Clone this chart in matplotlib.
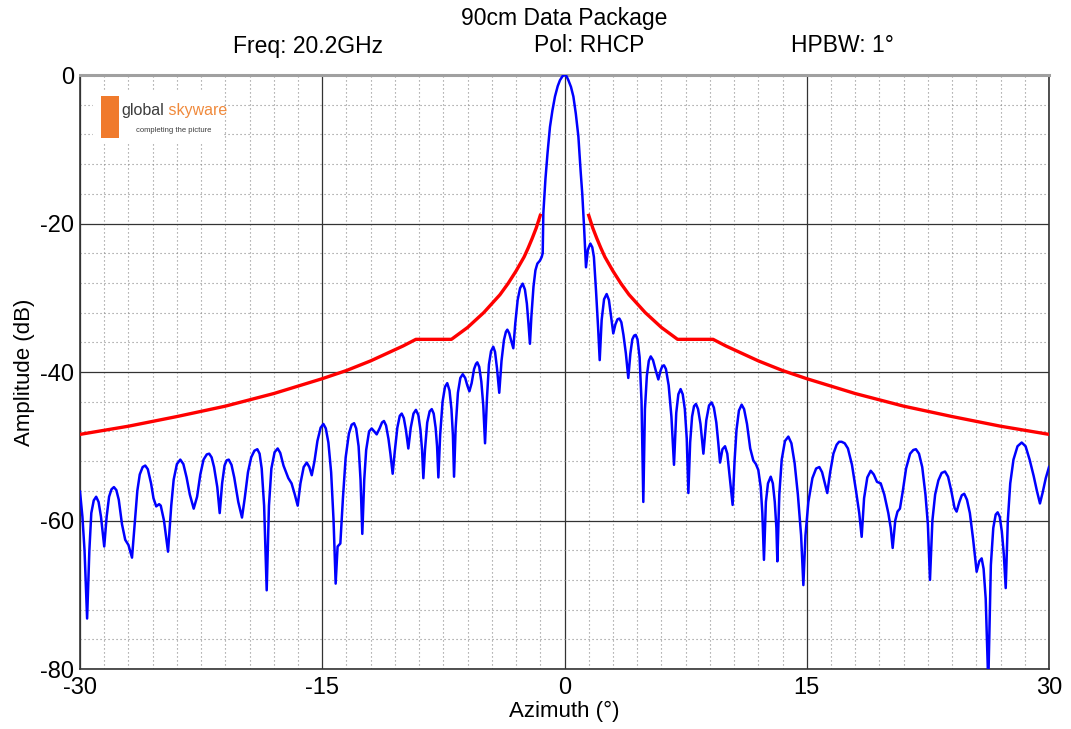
import matplotlib
matplotlib.use("Agg")
import matplotlib.pyplot as plt
from matplotlib.patches import Rectangle
from matplotlib.ticker import MultipleLocator

plt.rcParams['font.family'] = ['Liberation Sans', 'DejaVu Sans']

# Measured co-polar pattern: azimuth (deg) and amplitude (dB), row by row
azimuth_deg = [
    -30.0, -29.85, -29.72, -29.56, -29.42, -29.3, -29.15, -29.0, -28.85, -28.7,
    -28.5, -28.35, -28.2, -28.05, -27.9, -27.75, -27.6, -27.4, -27.2, -27.0,
    -26.78, -26.6, -26.45, -26.3, -26.12, -25.96, -25.8, -25.6, -25.45, -25.28,
    -25.1, -25.0, -24.8, -24.55, -24.35, -24.2, -24.0, -23.79, -23.6, -23.4,
    -23.2, -22.96, -22.75, -22.55, -22.35, -22.15, -22.0, -21.85, -21.7, -21.5,
    -21.35, -21.2, -21.05, -20.92, -20.79, -20.62, -20.45, -20.2, -19.97, -19.8,
    -19.6, -19.4, -19.2, -19.02, -18.88, -18.75, -18.6, -18.44, -18.3, -18.15,
    -17.95, -17.76, -17.6, -17.4, -17.1, -16.9, -16.7, -16.52, -16.35, -16.15,
    -15.96, -15.8, -15.65, -15.48, -15.3, -15.1, -14.93, -14.78, -14.62, -14.45,
    -14.3, -14.17, -14.05, -13.88, -13.72, -13.55, -13.35, -13.18, -13.03, -12.9,
    -12.75, -12.63, -12.52, -12.4, -12.28, -12.1, -11.94, -11.78, -11.63, -11.45,
    -11.3, -11.18, -11.05, -10.9, -10.78, -10.64, -10.5, -10.35, -10.2, -10.08,
    -9.95, -9.82, -9.67, -9.52, -9.35, -9.2, -9.05, -8.92, -8.82, -8.74,
    -8.64, -8.5, -8.35, -8.22, -8.1, -7.98, -7.89, -7.81, -7.7, -7.55,
    -7.4, -7.26, -7.12, -7.0, -6.91, -6.84, -6.74, -6.6, -6.45, -6.3,
    -6.15, -6.02, -5.89, -5.75, -5.6, -5.48, -5.4, -5.28, -5.15, -5.03,
    -4.92, -4.8, -4.68, -4.55, -4.41, -4.3, -4.18, -4.04, -3.9, -3.75,
    -3.63, -3.54, -3.42, -3.3, -3.17, -3.05, -2.9, -2.75, -2.59, -2.45,
    -2.33, -2.23, -2.14, -2.05, -1.92, -1.8, -1.68, -1.52, -1.41, -1.35,
    -1.31, -1.18, -1.05, -0.9, -0.75, -0.59, -0.42, -0.28, -0.12, 0.0,
    0.12, 0.24, 0.4, 0.55, 0.7, 0.86, 1.0, 1.1, 1.21, 1.33,
    1.45, 1.6, 1.72, 1.82, 1.95, 2.08, 2.18, 2.3, 2.45, 2.61,
    2.75, 2.88, 3.02, 3.15, 3.28, 3.4, 3.52, 3.65, 3.8, 3.95,
    4.08, 4.2, 4.31, 4.41, 4.52, 4.65, 4.77, 4.88, 4.98, 5.1,
    5.22, 5.34, 5.48, 5.65, 5.81, 5.95, 6.06, 6.16, 6.28, 6.45,
    6.62, 6.78, 6.92, 7.05, 7.19, 7.32, 7.45, 7.57, 7.67, 7.78,
    7.9, 8.02, 8.14, 8.27, 8.42, 8.6, 8.78, 8.95, 9.11, 9.25,
    9.4, 9.52, 9.63, 9.78, 9.94, 10.08, 10.25, 10.41, 10.53, 10.65,
    10.8, 10.97, 11.12, 11.3, 11.5, 11.69, 11.85, 12.0, 12.15, 12.25,
    12.35, 12.47, 12.6, 12.77, 12.9, 13.02, 13.12, 13.18, 13.3, 13.45,
    13.65, 13.86, 14.05, 14.25, 14.45, 14.65, 14.79, 14.92, 15.1, 15.35,
    15.58, 15.78, 15.95, 16.1, 16.27, 16.45, 16.65, 16.85, 17.0, 17.16,
    17.35, 17.55, 17.8, 18.05, 18.25, 18.4, 18.55, 18.75, 18.96, 19.15,
    19.35, 19.58, 19.8, 20.05, 20.2, 20.32, 20.48, 20.62, 20.77, 20.95,
    21.15, 21.4, 21.6, 21.76, 21.95, 22.15, 22.35, 22.5, 22.63, 22.78,
    22.95, 23.15, 23.35, 23.56, 23.75, 23.95, 24.15, 24.28, 24.45, 24.6,
    24.75, 24.92, 25.1, 25.3, 25.52, 25.68, 25.83, 25.95, 26.08, 26.24,
    26.4, 26.55, 26.7, 26.82, 26.95, 27.08, 27.2, 27.32, 27.45, 27.6,
    27.8, 28.05, 28.31, 28.55, 28.8, 29.05, 29.25, 29.44, 29.6, 29.8,
    30.0,
]
amplitude_db = [
    -56.1, -59.5, -64.0, -73.2, -64.0, -59.0, -57.3, -56.8, -57.5, -59.5,
    -63.5, -59.5, -56.8, -55.8, -55.5, -55.9, -57.2, -60.5, -62.6, -63.3,
    -65.0, -60.0, -56.0, -53.8, -52.8, -52.6, -53.1, -55.0, -57.0, -58.1,
    -57.8, -58.0, -60.0, -64.2, -58.0, -54.5, -52.4, -51.8, -52.4, -54.2,
    -56.5, -58.4, -56.8, -53.8, -51.8, -51.1, -51.0, -51.5, -52.8, -55.5,
    -59.0, -55.0, -52.6, -51.9, -51.8, -52.5, -54.2, -57.5, -59.6, -57.0,
    -53.5, -51.5, -50.6, -50.4, -51.0, -53.0, -58.0, -69.4, -58.0, -53.0,
    -50.8, -50.3, -50.9, -52.6, -54.3, -55.0, -56.5, -58.0, -55.0, -52.8,
    -52.2, -52.8, -53.9, -52.0, -49.3, -47.5, -47.0, -47.6, -49.5, -53.5,
    -60.0, -68.5, -63.5, -63.1, -57.0, -51.5, -48.3, -47.1, -46.9, -47.6,
    -50.0, -54.5, -61.8, -54.5, -50.5, -48.0, -47.6, -48.0, -48.4, -47.6,
    -46.8, -46.6, -47.2, -49.0, -51.0, -53.7, -50.5, -47.5, -45.9, -45.6,
    -46.2, -47.8, -50.3, -47.5, -45.6, -45.1, -45.8, -47.8, -50.5, -54.3,
    -50.5, -46.8, -45.3, -45.0, -45.6, -47.5, -50.0, -54.2, -48.5, -44.0,
    -42.0, -41.5, -42.5, -45.0, -48.5, -54.1, -47.5, -42.8, -40.8, -40.3,
    -40.8, -41.8, -42.6, -41.5, -39.6, -38.9, -38.7, -39.3, -41.3, -44.5,
    -49.6, -43.5, -39.0, -37.2, -36.6, -37.3, -39.5, -42.8, -38.5, -35.7,
    -34.6, -34.3, -34.8, -35.8, -36.8, -33.5, -30.3, -28.7, -28.1, -28.9,
    -30.8, -33.5, -36.2, -32.5, -28.5, -26.3, -25.4, -25.0, -24.5, -24.0,
    -18.6, -14.0, -10.5, -7.0, -4.8, -2.9, -1.5, -0.7, -0.15, 0.0,
    -0.15, -0.7, -1.6, -2.9, -5.2, -8.3, -13.0, -16.0, -20.4, -25.9,
    -23.5, -22.7, -23.2, -24.5, -29.0, -34.0, -38.4, -33.0, -30.2, -29.5,
    -30.3, -32.5, -34.8, -33.6, -32.9, -32.8, -33.3, -35.0, -37.5, -40.8,
    -37.5, -35.6, -35.1, -35.0, -35.6, -38.0, -44.0, -57.5, -45.0, -40.5,
    -38.5, -37.9, -38.4, -39.8, -41.0, -39.8, -39.2, -39.1, -39.6, -41.8,
    -46.0, -52.5, -45.5, -43.0, -42.3, -43.0, -45.0, -49.0, -56.3, -49.5,
    -46.0, -44.6, -44.3, -45.0, -47.0, -51.0, -46.5, -44.5, -44.1, -44.8,
    -46.8, -49.5, -52.2, -50.4, -50.0, -51.0, -54.5, -57.9, -52.0, -47.8,
    -45.2, -44.4, -45.0, -47.0, -50.3, -51.9, -52.4, -53.2, -55.5, -59.0,
    -65.3, -57.5, -55.0, -54.1, -55.0, -57.5, -61.0, -65.5, -56.5, -51.8,
    -49.3, -48.7, -49.6, -52.3, -56.5, -62.0, -68.7, -62.0, -57.5, -54.3,
    -53.0, -52.8, -53.5, -54.8, -56.3, -53.5, -51.0, -49.8, -49.4, -49.4,
    -49.6, -50.3, -52.5, -56.0, -59.0, -62.2, -57.0, -54.2, -53.3, -53.8,
    -54.8, -55.0, -56.5, -59.0, -61.0, -63.7, -60.0, -58.8, -58.4, -56.0,
    -53.0, -51.0, -50.5, -50.4, -51.0, -52.8, -56.5, -60.5, -68.0, -60.0,
    -56.5, -54.6, -53.6, -53.4, -54.1, -56.0, -58.3, -58.8, -57.5, -56.6,
    -56.4, -57.2, -59.0, -62.5, -66.9, -65.5, -65.1, -66.5, -70.5, -82.0,
    -66.0, -61.0, -59.2, -58.9, -59.5, -61.5, -64.5, -69.1, -60.0, -55.0,
    -51.8, -50.0, -49.5, -50.0, -51.8, -54.0, -56.0, -57.7, -56.3, -54.3,
    -52.8,
]

# Sidelobe envelope (one side, mirrored about boresight)
mask_deg = [1.5, 1.75, 2.0, 2.25, 2.5, 3.0, 3.5, 4.0, 5.0, 6.0, 7.0,
            9.2, 10.0, 11.0, 12.0, 13.5, 15.0, 16.5, 18.0, 21.0, 24.0, 27.0, 30.0]
mask_db = [-18.9, -20.6, -22.0, -23.3, -24.5, -26.4, -28.1, -29.6, -32.0, -34.0, -35.6,
           -35.6, -36.5, -37.5, -38.5, -39.8, -40.9, -41.9, -42.9, -44.6, -46.0, -47.3, -48.4]

x_ticks = [-30, -15, 0, 15, 30]
y_ticks = [-80, -60, -40, -20, 0]

fig = plt.figure(figsize=(10.71, 7.29), dpi=100)
ax = fig.add_axes([80 / 1071, 1 - 669 / 729, 969 / 1071, 594 / 729])

ax.plot(azimuth_deg, amplitude_db, color='#0000ff', lw=1.8, zorder=4,
        solid_joinstyle='round')
ax.plot([-d for d in mask_deg], mask_db, color='#ff0000', lw=2.4, zorder=5)
ax.plot(mask_deg, mask_db, color='#ff0000', lw=2.4, zorder=5)

ax.set_xlim(-30, 30)
ax.set_ylim(-80, 0)
ax.set_xticks(x_ticks)
ax.set_yticks(y_ticks)
ax.set_xticklabels([str(t) for t in x_ticks])
ax.set_yticklabels([str(t) for t in y_ticks])
ax.xaxis.set_minor_locator(MultipleLocator(1.5))
ax.yaxis.set_minor_locator(MultipleLocator(4))
ax.tick_params(which='both', length=0)
ax.tick_params(axis='x', labelsize=17, pad=6)
ax.tick_params(axis='y', labelsize=17, pad=4)

ax.grid(which='major', color='#333333', lw=0.9, ls='-', zorder=1)
ax.grid(which='minor', color='#8a8a8a', lw=0.8, ls=(0, (1, 2.6)), zorder=1)
ax.set_axisbelow(True)

for side in ('left', 'bottom', 'right'):
    ax.spines[side].set_color('#333333')
    ax.spines[side].set_linewidth(1.2)
ax.spines['top'].set_color('#a0a0a0')
ax.spines['top'].set_linewidth(2.2)

ax.set_xlabel('Azimuth (°)', fontsize=16, labelpad=1)
ax.set_ylabel('Amplitude (dB)', fontsize=16, labelpad=4)

fig.text(564 / 1071, 1 - 18 / 729, '90cm Data Package', ha='center', va='center', fontsize=16.5)
fig.text(308 / 1071, 1 - 46 / 729, 'Freq: 20.2GHz', ha='center', va='center', fontsize=16.5)
fig.text(589 / 1071, 1 - 46 / 729, 'Pol: RHCP', ha='center', va='center', fontsize=16.5)
fig.text(842 / 1071, 1 - 46 / 729, 'HPBW: 1°', ha='center', va='center', fontsize=16.5)


# Company logo block in the upper-left corner of the plot
def px(x, y):
    return ((x - 80) / 969, (669 - y) / 594)


x0, y0 = px(93, 143)
x1, y1 = px(223, 90)
ax.add_patch(Rectangle((x0, y0), x1 - x0, y1 - y0, transform=ax.transAxes,
                       facecolor='white', edgecolor='none', zorder=2))
bx0, by0 = px(101, 138)
bx1, by1 = px(119, 96)
ax.add_patch(Rectangle((bx0, by0), bx1 - bx0, by1 - by0, transform=ax.transAxes,
                       facecolor='#f07a2c', edgecolor='none', zorder=3))
tx, ty = px(121, 110)
logo_a = ax.text(tx, ty, 'global', transform=ax.transAxes, fontsize=11.5, color='#3c3c3c',
                 ha='left', va='center', zorder=3)
ax.annotate(' skyware', xy=(1, 0.5), xycoords=logo_a, fontsize=11.5, color='#f08a3c',
            ha='left', va='center', zorder=3)
tx, ty = px(136, 130)
ax.text(tx, ty, 'completing the picture', transform=ax.transAxes, fontsize=5.5,
        color='#3c3c3c', ha='left', va='center', zorder=3)

fig.savefig('out.png', dpi=100)
